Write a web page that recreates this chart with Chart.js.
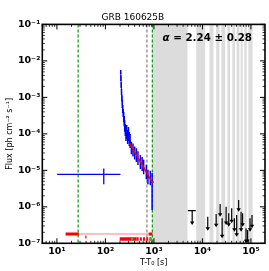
<!DOCTYPE html>
<html><head><meta charset="utf-8">
<script src="https://cdn.jsdelivr.net/npm/chart.js@4/dist/chart.umd.min.js"></script>
<style>html,body{margin:0;padding:0;background:#fff}canvas{display:block}</style>
</head><body>
<canvas id="c" width="269" height="271" style="width:269px;height:271px"></canvas>
<script>
// ---------- data ----------
const chartTitle = 'GRB 160625B';
const fitLabel = ['α', ' = 2.24 ± 0.28'];
const xTickValues = [10, 100, 1000, 10000, 100000];
const yTickValues = [1e-7, 1e-6, 1e-5, 1e-4, 1e-3, 1e-2, 1e-1];

// XRT light curve (s, ph cm^-2 s^-1, error in dex)
const xrtTime = [206.8, 208.8, 211.8, 214.8, 218.9, 223, 227.4, 232.8, 238.4, 244.1, 249.9, 257, 265.8, 274.7, 288, 299, 310.7, 322.6,
                 343, 370, 401, 435, 469, 525, 572, 614, 698, 753, 843];
const xrtFlux = [4.93e-3, 3.38e-3, 2.17e-3, 1.40e-3, 9.57e-4, 6.55e-4, 4.78e-4, 3.72e-4, 2.88e-4, 2.24e-4, 1.64e-4, 1.27e-4, 9.88e-5, 1.12e-4, 8.17e-5, 9.88e-5, 7.21e-5, 6.35e-5,
                 4.08e-5, 3.6e-5, 2.98e-5, 2.62e-5, 2.17e-5, 1.69e-5, 1.49e-5, 1.23e-5, 8.98e-6, 6.55e-6, 6.15e-6];
const xrtErrDex = [0.055, 0.08, 0.08, 0.08, 0.08, 0.11, 0.11, 0.11, 0.14, 0.14, 0.16, 0.16, 0.19, 0.19, 0.19, 0.19, 0.19, 0.19,
                   0.17, 0.18, 0.18, 0.19, 0.19, 0.19, 0.19, 0.2, 0.2, 0.2, 0.2];
// last XRT point with asymmetric error
const xrtLastTime = [918];
const xrtLastFlux = [4.78e-6];
const xrtLastLo = [8.2e-7];
const xrtLastHi = [8.5e-6];

// early wide point
const earlyTime = [92.5];
const earlyTimeLo = [10.1];
const earlyTimeHi = [204];
const earlyFlux = [7.7e-6];
const earlyFluxLo = [4.17e-6];
const earlyFluxHi = [1.13e-5];

// power-law fit
const fitTime = [316.6, 952];
const fitFlux = [5.5e-5, 4.4e-6];

// upper limits: time, top flux, arrow tip flux
const ulTime = [6150, 12880, 19180, 23180, 25480, 30780, 34830, 40100, 45590, 50820, 55850, 62620, 67470, 79250, 85500, 95780, 105400];
const ulFlux = [7.82e-7, 5.36e-7, 6.35e-7, 1.19e-6, 4.84e-7, 1.01e-6, 6.64e-7, 9.1e-7, 4.84e-7, 5.96e-7, 1.53e-6, 7.34e-7, 6.64e-7, 2.58e-7, 2.31e-7, 4.84e-7, 5.96e-7];
const ulTip  = [3.17e-7, 2.21e-7, 2.74e-7, 5.36e-7, 1.37e-7, 3.17e-7, 2.85e-7, 3.53e-7, 2.08e-7, 1.52e-7, 7.34e-7, 2.08e-7, 2.85e-7, 1.0e-7, 1.02e-7, 2.08e-7, 2.58e-7];
const ulCapTimeLo = [5000];
const ulCapTimeHi = [7290];

// shaded intervals (s)
const shadeStart = [918, 7450, 13960, 19200, 24600, 32700, 41500, 50800, 61400, 73100, 88500];
const shadeEnd   = [4930, 11400, 16870, 22400, 29400, 37200, 47100, 57800, 67500, 81600, 108000];

// vertical markers (s)
const greenLines = [27.4, 927];
const grayLines = [718];

// observation bars near the bottom
const rowAFlux = 1.8e-7;
const rowAThick = [15.1, 28.3];
const rowAThin = [28.3, 918];
const rowAThickEnd = [780, 930];
const rowATickTime = [39.5];
const rowATickFlux = [1.61e-7, 1.37e-7];
const rowBFlux = 1.31e-7;
const rowBThick = [197, 440];
const rowBDash = [440, 918];
const greenMarkTime = [355, 860];

// ---------- helpers ----------
const SUP = {'-':'⁻','0':'⁰','1':'¹','2':'²','3':'³','4':'⁴','5':'⁵','6':'⁶','7':'⁷','8':'⁸','9':'⁹'};
function decLabel(v){ const e = Math.round(Math.log10(v)); return '10' + String(e).split('').map(c=>SUP[c]).join(''); }
const seg = (arr, f) => arr.map(t => ({x:t, y:f}));
const FONT = '"DejaVu Sans", sans-serif';

const custom = {
  id: 'custom',
  beforeDatasetsDraw(chart){
    const {ctx, chartArea:a, scales:{x, y}} = chart;
    ctx.save();
    ctx.beginPath(); ctx.rect(a.left, a.top, a.right-a.left, a.bottom-a.top); ctx.clip();
    // shading
    ctx.fillStyle = '#dcdcdc';
    shadeStart.forEach((s,i)=>{
      const x0 = x.getPixelForValue(s), x1 = x.getPixelForValue(shadeEnd[i]);
      ctx.fillRect(x0, a.top, x1-x0, a.bottom-a.top);
    });
    // dashed verticals
    ctx.lineWidth = 1.2;
    ctx.setLineDash([3,2]);
    ctx.strokeStyle = '#7f7f7f';
    grayLines.forEach(t=>{ const px = x.getPixelForValue(t); ctx.beginPath(); ctx.moveTo(px, a.top); ctx.lineTo(px, a.bottom); ctx.stroke(); });
    ctx.strokeStyle = '#009900';
    greenLines.forEach(t=>{ const px = x.getPixelForValue(t); ctx.beginPath(); ctx.moveTo(px, a.top); ctx.lineTo(px, a.bottom); ctx.stroke(); });
    ctx.setLineDash([]);
    // early wide point
    ctx.strokeStyle = '#0000ff'; ctx.lineWidth = 1.3;
    earlyTime.forEach((t,i)=>{
      const py = y.getPixelForValue(earlyFlux[i]);
      ctx.beginPath();
      ctx.moveTo(x.getPixelForValue(earlyTimeLo[i]), py); ctx.lineTo(x.getPixelForValue(earlyTimeHi[i]), py);
      const px = x.getPixelForValue(t);
      ctx.moveTo(px, y.getPixelForValue(earlyFluxLo[i])); ctx.lineTo(px, y.getPixelForValue(earlyFluxHi[i]));
      ctx.stroke();
    });
    // xrt error bars
    ctx.lineWidth = 1.5;
    xrtTime.forEach((t,i)=>{
      const px = x.getPixelForValue(t);
      const f = xrtFlux[i], e = Math.pow(10, xrtErrDex[i]);
      ctx.beginPath();
      ctx.moveTo(px, y.getPixelForValue(f/e)); ctx.lineTo(px, y.getPixelForValue(f*e));
      ctx.stroke();
      if (i>0){
        ctx.lineWidth = 1;
        ctx.beginPath();
        ctx.moveTo(x.getPixelForValue(xrtTime[i-1]), y.getPixelForValue(xrtFlux[i-1]));
        ctx.lineTo(px, y.getPixelForValue(f));
        ctx.stroke();
        ctx.lineWidth = 1.5;
      }
    });
    xrtLastTime.forEach((t,i)=>{
      const px = x.getPixelForValue(t);
      ctx.beginPath();
      ctx.moveTo(px, y.getPixelForValue(xrtLastLo[i])); ctx.lineTo(px, y.getPixelForValue(xrtLastHi[i]));
      ctx.moveTo(px-1.5, y.getPixelForValue(xrtLastFlux[i])); ctx.lineTo(px+1.5, y.getPixelForValue(xrtLastFlux[i]));
      ctx.stroke();
    });
    // upper limits
    ctx.strokeStyle = '#000'; ctx.fillStyle = '#000'; ctx.lineWidth = 1.2;
    ulTime.forEach((t,i)=>{
      const px = x.getPixelForValue(t);
      const y0 = y.getPixelForValue(ulFlux[i]), y1 = y.getPixelForValue(ulTip[i]);
      ctx.beginPath(); ctx.moveTo(px, y0); ctx.lineTo(px, y1-2); ctx.stroke();
      ctx.beginPath(); ctx.moveTo(px-2.2, y1-3.5); ctx.lineTo(px+2.2, y1-3.5); ctx.lineTo(px, y1); ctx.closePath(); ctx.fill();
    });
    ulCapTimeLo.forEach((t,i)=>{
      const py = y.getPixelForValue(ulFlux[i]);
      ctx.beginPath(); ctx.moveTo(x.getPixelForValue(t), py); ctx.lineTo(x.getPixelForValue(ulCapTimeHi[i]), py); ctx.stroke();
    });
    ctx.restore();
  },
  afterDraw(chart){
    const {ctx, chartArea:a, scales:{x, y}} = chart;
    ctx.save();
    ctx.strokeStyle = '#000';
    // ticks (inward, all four sides)
    const drawX = (v, len) => { const px = x.getPixelForValue(v);
      ctx.beginPath(); ctx.moveTo(px, a.bottom); ctx.lineTo(px, a.bottom-len); ctx.moveTo(px, a.top); ctx.lineTo(px, a.top+len); ctx.stroke(); };
    const drawY = (v, len) => { const py = y.getPixelForValue(v);
      ctx.beginPath(); ctx.moveTo(a.left, py); ctx.lineTo(a.left+len, py); ctx.moveTo(a.right, py); ctx.lineTo(a.right-len, py); ctx.stroke(); };
    for (let n = Math.floor(Math.log10(x.min)); n <= Math.ceil(Math.log10(x.max)); n++){
      for (let m = 1; m < 10; m++){ const v = m*Math.pow(10,n); if (v < x.min || v > x.max) continue;
        ctx.lineWidth = m===1 ? 1 : 0.8; drawX(v, m===1 ? 5 : 2.5); }
    }
    for (let n = Math.floor(Math.log10(y.min)); n <= Math.ceil(Math.log10(y.max)); n++){
      for (let m = 1; m < 10; m++){ const v = m*Math.pow(10,n); if (v < y.min*0.999 || v > y.max*1.001) continue;
        ctx.lineWidth = m===1 ? 1 : 0.8; drawY(v, m===1 ? 5 : 2.5); }
    }
    // frame
    ctx.lineWidth = 1.6;
    ctx.strokeRect(a.left, a.top, a.right-a.left, a.bottom-a.top);
    // fit annotation
    ctx.fillStyle = '#000';
    ctx.textBaseline = 'middle';
    const tx = a.left + 0.54*(a.right-a.left), ty = a.top + 0.064*(a.bottom-a.top);
    ctx.font = 'italic bold 10.3px ' + FONT;
    ctx.fillText(fitLabel[0], tx, ty);
    const w = ctx.measureText(fitLabel[0]).width;
    ctx.font = 'bold 10.3px ' + FONT;
    ctx.fillText(fitLabel[1], tx + w, ty);
    ctx.restore();
  }
};

new Chart(document.getElementById('c'), {
  type: 'scatter',
  data: { datasets: [
    { data: fitTime.map((t,i)=>({x:t, y:fitFlux[i]})), showLine:true, borderColor:'#ff0000', borderWidth:1.5, pointRadius:0 },
    { data: greenMarkTime.map(t=>({x:t, y:rowBFlux})), pointStyle:'rect', pointRadius:1.6, backgroundColor:'#22bb22', borderColor:'#22bb22', borderWidth:0 },
    { data: seg(rowAThick, rowAFlux), showLine:true, borderColor:'#ff0000', borderWidth:3, pointRadius:0, borderCapStyle:'butt' },
    { data: seg(rowAThickEnd, rowAFlux), showLine:true, borderColor:'#ff0000', borderWidth:3, pointRadius:0, borderCapStyle:'butt' },
    { data: seg(rowAThin, rowAFlux), showLine:true, borderColor:'#ff8080', borderWidth:1, pointRadius:0 },
    { data: rowATickFlux.map(f=>({x:rowATickTime[0], y:f})), showLine:true, borderColor:'#ff4040', borderWidth:1, pointRadius:0 },
    { data: seg(rowBThick, rowBFlux), showLine:true, borderColor:'#ff0000', borderWidth:3.5, pointRadius:0, borderCapStyle:'butt' },
    { data: seg(rowBDash, rowBFlux), showLine:true, borderColor:'#ff0000', borderWidth:3.5, borderDash:[2,1.2], pointRadius:0, borderCapStyle:'butt' },
    { data: xrtTime.map((t,i)=>({x:t, y:xrtFlux[i]})), pointRadius:0 }
  ]},
  options: {
    responsive:false, animation:false, devicePixelRatio:1,
    layout:{ padding:{ left:0, right:3.3, top:0, bottom:0 } },
    plugins:{
      legend:{display:false}, tooltip:{enabled:false},
      title:{ display:true, text:chartTitle, color:'#000', font:{family:FONT, size:9, weight:'normal'}, padding:{top:12.5, bottom:1.1} }
    },
    scales:{
      x:{ type:'logarithmic', min:5, max:1.95e5,
        afterBuildTicks(s){ s.ticks = xTickValues.map(v=>({value:v, major:true})); },
        afterFit(s){ s.height = 27.7; },
        grid:{display:false, drawTicks:false}, border:{display:false},
        ticks:{ callback:(v)=>decLabel(v), color:'#000', font:{family:FONT, size:9.5, weight:'bold'}, padding:3, maxRotation:0, autoSkip:false },
        title:{ display:true, text:'T-T₀ [s]', color:'#000', font:{family:FONT, size:8}, padding:{top:0, bottom:3} }
      },
      y:{ type:'logarithmic', min:1e-7, max:1e-1,
        afterBuildTicks(s){ s.ticks = yTickValues.map(v=>({value:v, major:true})); },
        afterFit(s){ s.width = 42.3; },
        grid:{display:false, drawTicks:false}, border:{display:false},
        ticks:{ callback:(v)=>decLabel(v), color:'#000', font:{family:FONT, size:9.5, weight:'bold'}, padding:2, autoSkip:false },
        title:{ display:true, text:'Flux [ph cm⁻² s⁻¹]', color:'#000', font:{family:FONT, size:8}, padding:{top:5, bottom:0} }
      }
    }
  },
  plugins:[custom]
});
</script>
</body></html>
